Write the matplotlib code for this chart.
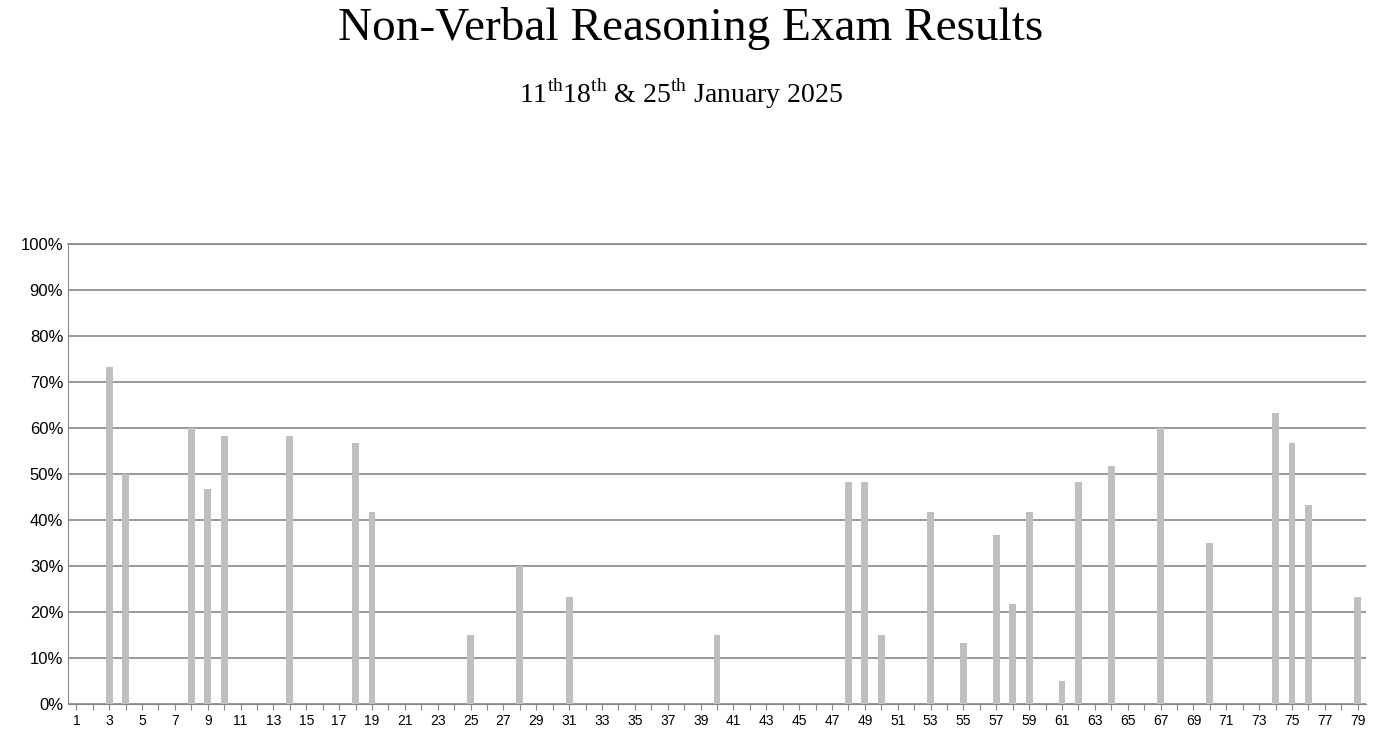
import matplotlib
matplotlib.use("Agg")
import matplotlib.pyplot as plt
import numpy as np

questions = np.arange(1, 80)
scores = {3: 73.3, 4: 50, 8: 60, 9: 46.7, 10: 58.3, 14: 58.3, 18: 56.7, 19: 41.7,
          25: 15, 28: 30, 31: 23.3, 40: 15, 48: 48.3, 49: 48.3, 50: 15, 53: 41.7,
          55: 13.3, 57: 36.7, 58: 21.7, 59: 41.7, 61: 5, 62: 48.3, 64: 51.7, 67: 60,
          70: 35, 74: 63.3, 75: 56.7, 76: 43.3, 79: 23.3}
values = np.array([scores.get(q, 0) for q in questions]) / 100

plt.rcParams['mathtext.fontset'] = 'custom'
plt.rcParams['mathtext.rm'] = 'Liberation Serif'

fig = plt.figure(figsize=(13.9, 7.44), dpi=100)
ax = fig.add_axes([0.049, 0.0538, 0.9337, 0.618])
ax.bar(questions, values, width=0.42, color="#bfbfbf", zorder=3)
ax.set_xlim(0.5, 79.5)
ax.set_ylim(0, 1)
ax.set_yticks(np.arange(0, 1.01, 0.1))
ax.set_yticklabels([f"{int(round(v*100))}%" for v in np.arange(0, 1.01, 0.1)],
                   fontsize=12, family="Liberation Sans")
ax.set_xticks(questions)
ax.set_xticklabels([str(q) if q % 2 else "" for q in questions],
                   fontsize=10, family="Liberation Sans")
ax.tick_params(axis='x', length=4, color="#888888")
ax.tick_params(axis='y', length=0)
ax.grid(axis='y', color="#888888", linewidth=1.2, zorder=0)
ax.axhline(1, color="#888888", linewidth=1.2, clip_on=False, zorder=0)
for s in ['top', 'right']:
    ax.spines[s].set_visible(False)
ax.spines['left'].set_color("#888888")
ax.spines['bottom'].set_color("#888888")

fig.text(0.497, 0.962, "Non-Verbal Reasoning Exam Results", ha='center', va='center',
         fontsize=34, family="Liberation Serif")
fig.text(0.49, 0.874, r"11$^{\mathrm{th}}$18$^{\mathrm{th}}$ & 25$^{\mathrm{th}}$ January 2025",
         ha='center', va='center', fontsize=20, family="Liberation Serif")
fig.savefig("out.png", dpi=100)
